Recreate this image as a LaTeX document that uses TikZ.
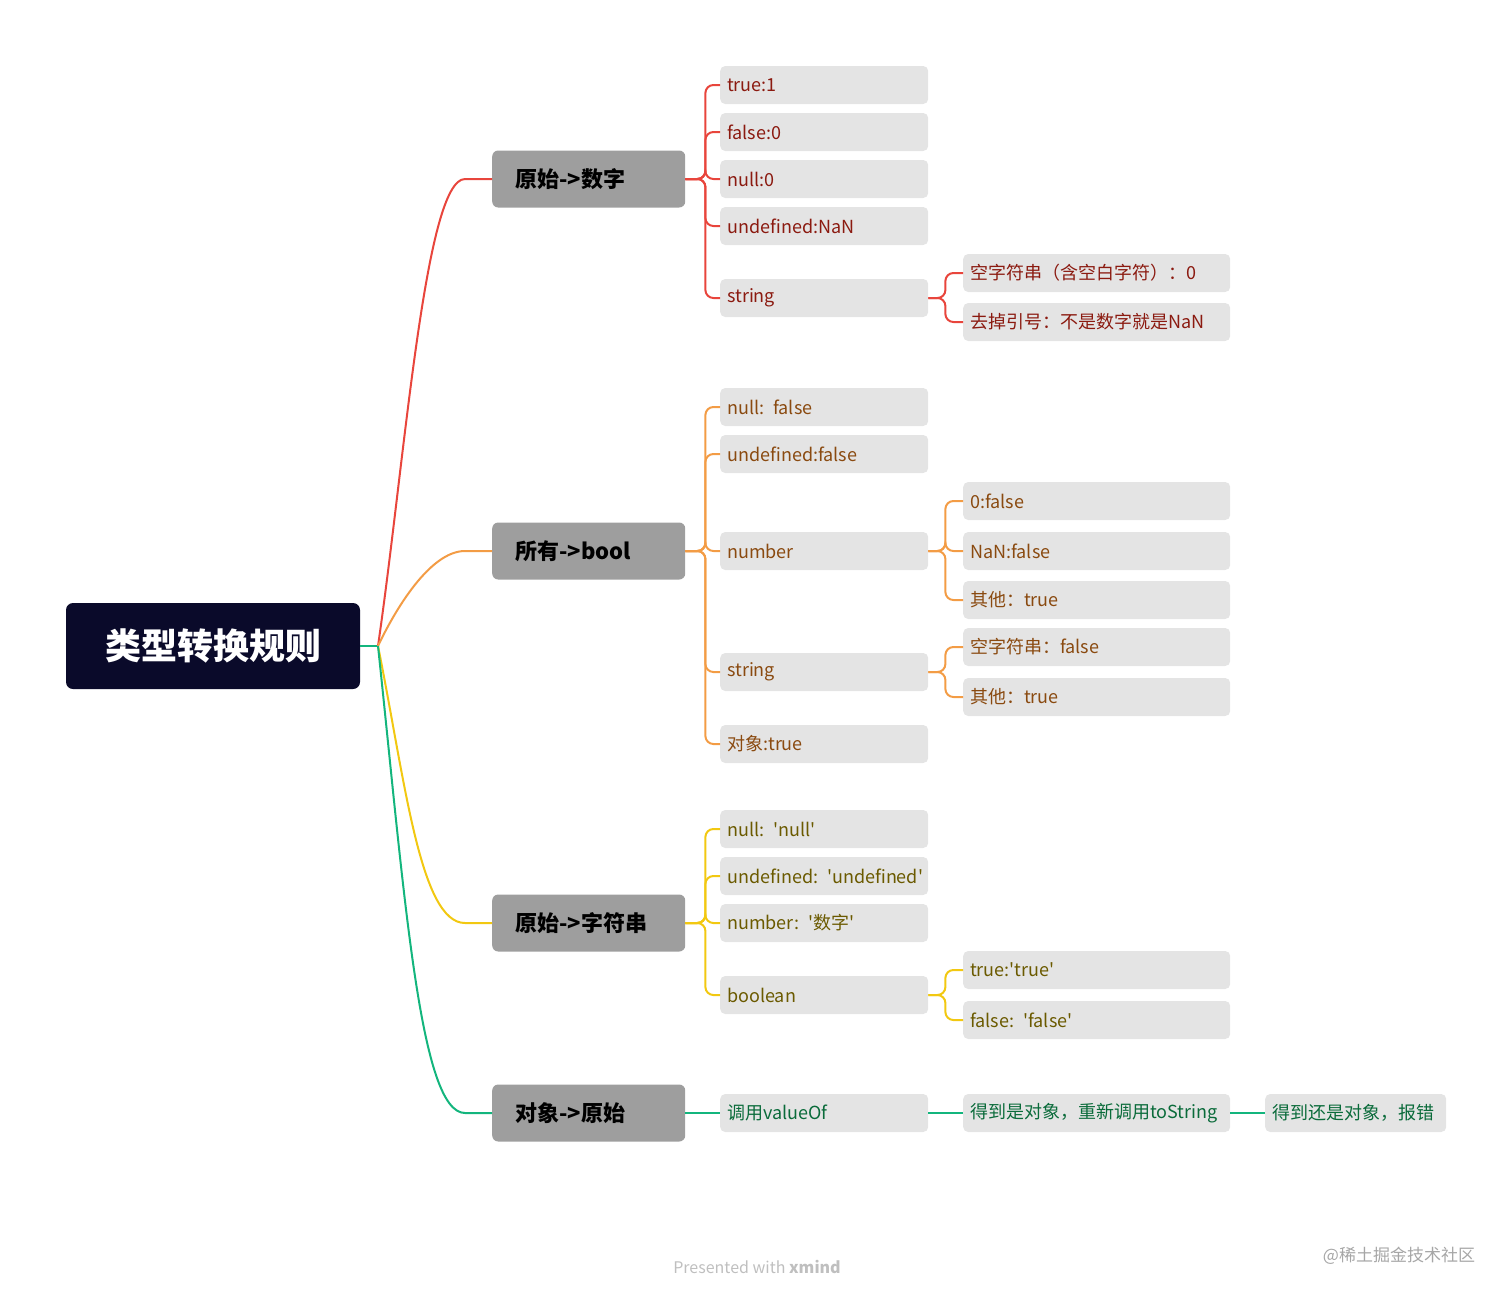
\documentclass[tikz,border=0pt]{standalone}
\usepackage{fontspec}
\setmainfont{Noto Sans CJK SC}[Ligatures=TeXOff]
\usetikzlibrary{calc}
\definecolor{cred}{HTML}{E8453C}\definecolor{corg}{HTML}{F39C45}
\definecolor{cyel}{HTML}{F2C811}\definecolor{cgrn}{HTML}{13B57D}
\definecolor{tred}{HTML}{8B1A10}\definecolor{torg}{HTML}{8A4A10}
\definecolor{tyel}{HTML}{6B5A00}\definecolor{tgrn}{HTML}{0A6B3A}
\definecolor{leafbg}{HTML}{E4E4E4}\definecolor{mainbg}{HTML}{9E9E9E}
\definecolor{rootbg}{HTML}{0A0A2A}
\tikzset{
 leaf/.style={fill=leafbg,rounded corners=5pt,anchor=west,minimum height=38pt,inner xsep=7pt,text width=#1,align=left,font=\fontsize{18}{20}\selectfont},
 leaf/.default=194pt,
 main/.style={fill=mainbg,rounded corners=6pt,anchor=west,minimum width=193pt,minimum height=57pt,inner xsep=23pt,text width=147pt,align=left,font=\fontsize{22}{24}\selectfont\bfseries},
 br/.style={line width=2pt,rounded corners=8pt}
}
\begin{document}
\begin{tikzpicture}[x=1pt,y=-1pt]
\useasboundingbox (0,0) rectangle (1512,1299);
\node[fill=rootbg,rounded corners=7pt,minimum width=294pt,minimum height=86pt,text=white,font=\fontsize{36}{40}\selectfont\bfseries] (r) at (213,646) {类型转换规则};
\coordinate (rj) at (378,646);
\node[main] (a) at (492,179) {原始->数字};
\node[main] (b) at (492,551) {所有->bool};
\node[main] (c) at (492,923) {原始->字符串};
\node[main] (d) at (492,1113) {对象->原始};
\draw[line width=2pt,cgrn] (r.east) -- (rj);
\draw[line width=2pt,cred] (rj) .. controls (405,460) and (425,179) .. (465,179) -- (a.west);
\draw[line width=2pt,corg] (rj) .. controls (395,610) and (430,551) .. (465,551) -- (b.west);
\draw[line width=2pt,cyel] (rj) .. controls (405,780) and (420,923) .. (465,923) -- (c.west);
\draw[line width=2pt,cgrn] (rj) .. controls (405,900) and (420,1113) .. (465,1113) -- (d.west);
% group a
\foreach \n/\y/\t in {a1/85/{true:1},a2/132/{false:0},a3/179/{null:0},a4/226/{undefined:NaN},a5/298/{string}}
 {\node[leaf,text=tred] (\n) at (720,\y) {\mbox{\t}}; \draw[br,cred] (a.east) -- ++(20,0) |- (\n.west);}
\foreach \n/\y/\t in {a51/273/{空字符串（含空白字符）：0},a52/322/{去掉引号：不是数字就是NaN}}
 {\node[leaf=253pt,text=tred] (\n) at (963,\y) {\mbox{\t}}; \draw[br,cred] (a5.east) -- ++(17,0) |- (\n.west);}
% group b
\foreach \n/\y/\t in {b1/407/{null: false},b2/454/{undefined:false},b3/551/{number},b4/672/{string},b5/744/{对象:true}}
 {\node[leaf,text=torg] (\n) at (720,\y) {\mbox{\t}}; \draw[br,corg] (b.east) -- ++(20,0) |- (\n.west);}
\foreach \n/\y/\t in {b31/501/{0:false},b32/551/{NaN:false},b33/600/{其他：true}}
 {\node[leaf=253pt,text=torg] (\n) at (963,\y) {\mbox{\t}}; \draw[br,corg] (b3.east) -- ++(17,0) |- (\n.west);}
\foreach \n/\y/\t in {b41/647/{空字符串：false},b42/697/{其他：true}}
 {\node[leaf=253pt,text=torg] (\n) at (963,\y) {\mbox{\t}}; \draw[br,corg] (b4.east) -- ++(17,0) |- (\n.west);}
% group c
\foreach \n/\y/\t in {c1/829/{null: 'null'},c2/876/{undefined: 'undefined'},c3/923/{number: '数字'},c4/995/{boolean}}
 {\node[leaf,text=tyel] (\n) at (720,\y) {\mbox{\t}}; \draw[br,cyel] (c.east) -- ++(20,0) |- (\n.west);}
\foreach \n/\y/\t in {c41/970/{true:'true'},c42/1020/{false: 'false'}}
 {\node[leaf=253pt,text=tyel] (\n) at (963,\y) {\mbox{\t}}; \draw[br,cyel] (c4.east) -- ++(17,0) |- (\n.west);}
% group d
\node[leaf,text=tgrn] (d1) at (720,1113) {调用valueOf};
\node[leaf=253pt,text=tgrn] (d2) at (963,1113) {\mbox{得到是对象，重新调用toString}};
\node[leaf=167pt,text=tgrn] (d3) at (1265,1113) {\mbox{得到还是对象，报错}};
\draw[line width=2pt,cgrn] (d.east) -- (d1.west);
\draw[line width=2pt,cgrn] (d1.east) -- (d2.west);
\draw[line width=2pt,cgrn] (d2.east) -- (d3.west);
\node[text=black!25,font=\fontsize{16}{18}\selectfont] (f1) at (757,1267) {Presented with \textbf{xmind}};
\node[text=black!35,font=\fontsize{17}{19}\selectfont] (f2) at (1399,1256) {@稀土掘金技术社区};
\end{tikzpicture}
\end{document}
